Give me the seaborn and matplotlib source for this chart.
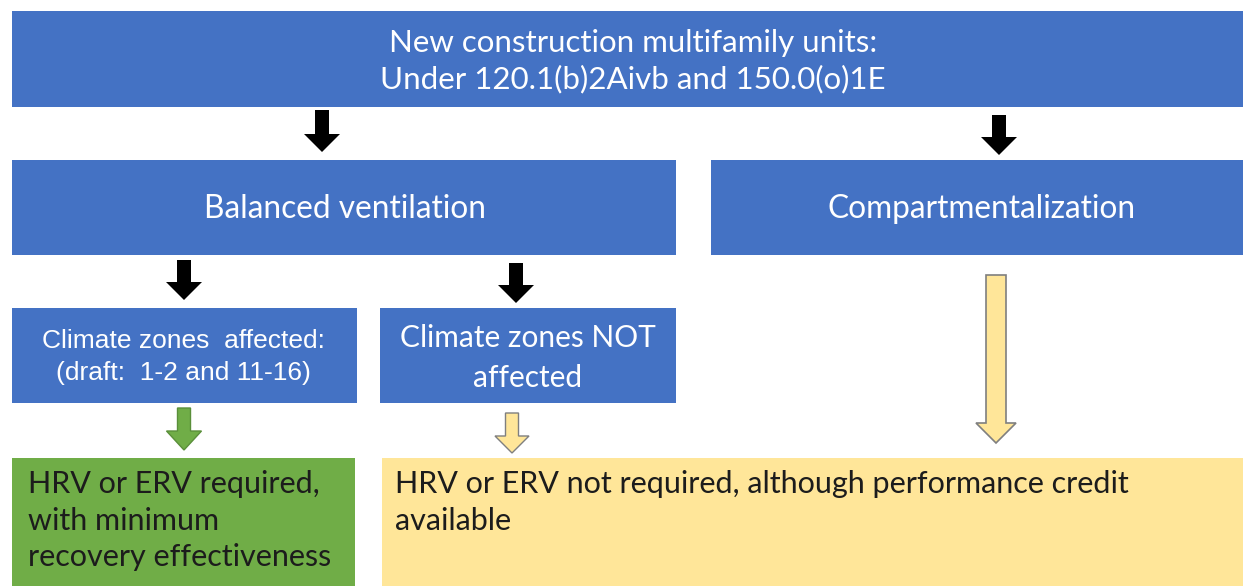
import matplotlib
matplotlib.use('Agg')
import matplotlib.pyplot as plt
from matplotlib.patches import Rectangle, FancyArrow
import seaborn as sns

sns.set_theme(style='white')

# box texts
top_label = 'New construction multifamily units:\nUnder 120.1(b)2Aivb and 150.0(o)1E'
branch_labels = ['Balanced ventilation', 'Compartmentalization']
zone_labels = ['Climate zones  affected:\n(draft:  1-2 and 11-16)', 'Climate zones NOT\naffected']
outcome_labels = ['HRV or ERV required,\nwith minimum\nrecovery effectiveness',
                  'HRV or ERV not required, although performance credit\navailable']

blue = '#4472C4'
green = '#70AD47'
yellow = '#FFE699'

fig = plt.figure(figsize=(12.43, 5.86), dpi=100)
ax = fig.add_axes([0, 0, 1, 1])
ax.set_xlim(0, 1243)
ax.set_ylim(586, 0)
ax.axis('off')

def box(x0, y0, x1, y1, color):
    ax.add_patch(Rectangle((x0, y0), x1 - x0, y1 - y0, facecolor=color, edgecolor='none'))

def arrow(x, y0, y1, shaft, head, hlen, face, edge='none', lw=0):
    ax.add_patch(FancyArrow(x, y0, 0, y1 - y0, width=shaft, head_width=head, head_length=hlen,
                            length_includes_head=True, facecolor=face, edgecolor=edge, linewidth=lw))

calibri = ['Lato', 'DejaVu Sans']
arial = ['Liberation Sans Narrow', 'Liberation Sans', 'DejaVu Sans']

# top
box(12, 11, 1243, 107, blue)
ax.text(633, 61, top_label, ha='center', va='center', color='white', fontsize=22.5,
        family=calibri, linespacing=1.35)

# level 2
box(12, 160, 676, 255, blue)
box(711, 160, 1243, 255, blue)
ax.text(345, 209, branch_labels[0], ha='center', va='center', color='white', fontsize=22.8, family=calibri)
ax.text(982, 209, branch_labels[1], ha='center', va='center', color='white', fontsize=22.8, family=calibri)

# level 3
box(12, 308, 357, 403, blue)
box(380, 308, 676, 403, blue)
ax.text(183, 357, zone_labels[0], ha='center', va='center', color='white', fontsize=19,
        family=arial, linespacing=1.4)
ax.text(528, 358, zone_labels[1], ha='center', va='center', color='white', fontsize=21.5,
        family=calibri, linespacing=1.5)

# outcomes
box(12, 458, 355, 586, green)
box(382, 458, 1243, 586, yellow)
ax.text(28, 470, outcome_labels[0], ha='left', va='top', color='#1c1c1c', fontsize=22,
        family=calibri, linespacing=1.38)
ax.text(395, 470, outcome_labels[1], ha='left', va='top', color='#1c1c1c', fontsize=22,
        family=calibri, linespacing=1.38)

# black arrows
for x, y0, y1 in [(322, 110, 152), (999, 115, 155), (184, 260, 300), (516, 263, 303)]:
    arrow(x, y0, y1, 14, 36, 18, 'black')

# coloured arrows
arrow(184, 408, 450, 13, 35, 19, green, '#5a8f3a', 1)
arrow(512, 413, 453, 13, 34, 17, yellow, '#7f7f7f', 1)
arrow(996, 275, 443, 20, 40, 20, yellow, '#7f7f7f', 1.2)

fig.savefig('out.png', dpi=100)
